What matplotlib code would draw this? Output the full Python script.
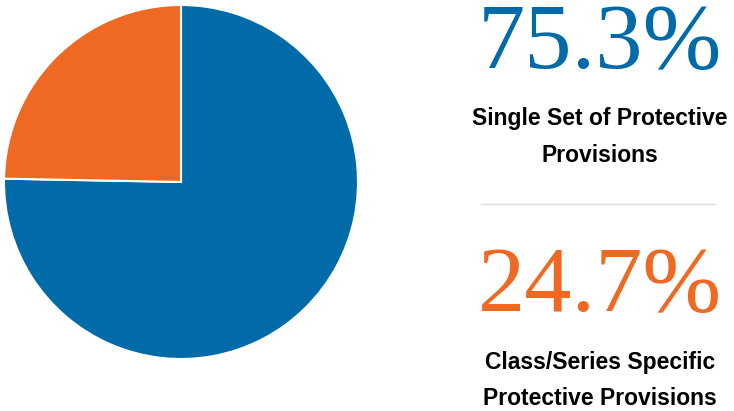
import matplotlib
matplotlib.use("Agg")
import matplotlib.pyplot as plt
from matplotlib import font_manager

# data
shares = [75.3, 24.7]
labels = ["Single Set of Protective\nProvisions", "Class/Series Specific\nProtective Provisions"]
colors = ["#006BA8", "#F06923"]

W, H = 734, 411
fig = plt.figure(figsize=(W / 100, H / 100), dpi=100)
fig.patch.set_facecolor("white")

# pie area in pixels: x 4..358, y 4..360 (from top)
ax = fig.add_axes([4 / W, (H - 360) / H, 354 / W, 356 / H])
ax.pie(shares, colors=colors, startangle=90, counterclock=False,
       wedgeprops=dict(edgecolor="white", linewidth=1.5), radius=1.0)
ax.set_xlim(-1.0, 1.0)
ax.set_ylim(-1.0, 1.0)
ax.set_aspect("equal")
ax.axis("off")

names = {f.name for f in font_manager.fontManager.ttflist}
label_font = "Liberation Sans Narrow" if "Liberation Sans Narrow" in names else "Liberation Sans"
num_font = ["Liberation Serif", "DejaVu Serif"]

cx = 600 / W
big_y = [46, 288]
lab_y = [(118, 155), (362, 398)]
for i, share in enumerate(shares):
    fig.text(cx, 1 - big_y[i] / H, f"{share:.1f}%", ha="center", va="center",
             fontsize=68, color=colors[i], family=num_font)
    for line, y in zip(labels[i].split("\n"), lab_y[i]):
        fig.text(cx, 1 - y / H, line, ha="center", va="center",
                 fontsize=16.5, fontweight="bold", color="black",
                 family=[label_font, "DejaVu Sans"])

# separator line
fig.add_artist(plt.Line2D([481 / W, 715 / W], [1 - 204 / H, 1 - 204 / H],
                          color="#dddddd", linewidth=1))

fig.savefig("out.png", dpi=100)
